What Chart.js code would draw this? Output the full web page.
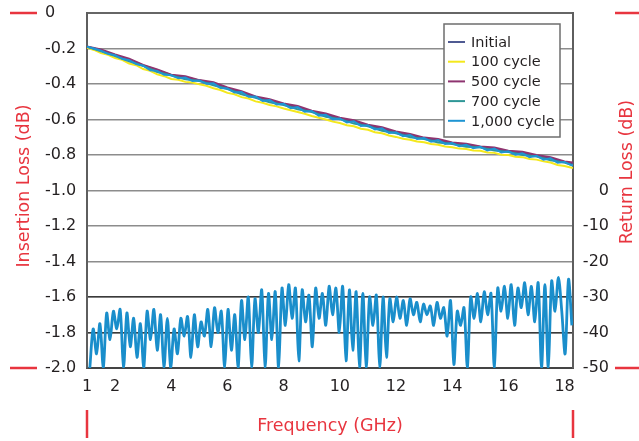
<!DOCTYPE html>
<html>
<head>
<meta charset="utf-8">
<script src="https://cdn.jsdelivr.net/npm/chart.js@4.4.1/dist/chart.umd.min.js"></script>
<style>
  html, body { margin: 0; padding: 0; background: #fff; }
  #wrap { width: 639px; height: 441px; position: relative; }
</style>
</head>
<body>
<div id="wrap"><canvas id="lossChart"></canvas></div>
<script>
// Frequenze (GHz) per la perdita di inserzione
const ilFreq = [1, 1.5, 2, 2.5, 3, 3.5, 4, 4.5, 5, 5.5, 6, 6.5, 7, 7.5, 8, 8.5, 9, 9.5,
    10, 10.5, 11, 11.5, 12, 12.5, 13, 13.5, 14, 14.5, 15, 15.5, 16, 16.5, 17, 17.5, 18, 18.3];
const ilFreqFine = [1, 1.25, 1.5, 1.75, 2, 2.25, 2.5, 2.75, 3, 3.25, 3.5, 3.75, 4, 4.25, 4.5, 4.75,
    5, 5.25, 5.5, 5.75, 6, 6.25, 6.5, 6.75, 7, 7.25, 7.5, 7.75, 8, 8.25, 8.5, 8.75,
    9, 9.25, 9.5, 9.75, 10, 10.25, 10.5, 10.75, 11, 11.25, 11.5, 11.75, 12, 12.25, 12.5, 12.75,
    13, 13.25, 13.5, 13.75, 14, 14.25, 14.5, 14.75, 15, 15.25, 15.5, 15.75, 16, 16.25, 16.5, 16.75,
    17, 17.25, 17.5, 17.75, 18, 18.25, 18.3];

// Insertion loss (dB) per ciclo
const ilInitial = [-0.19, -0.21, -0.238, -0.262, -0.296, -0.322, -0.35, -0.362, -0.38, -0.396, -0.425, -0.447,
    -0.474, -0.492, -0.514, -0.532, -0.554, -0.574, -0.594, -0.612, -0.634, -0.652, -0.674, -0.69,
    -0.706, -0.718, -0.734, -0.742, -0.755, -0.764, -0.78, -0.789, -0.805, -0.818, -0.84, -0.848];
const il100 = [-0.196, -0.208, -0.226, -0.236, -0.254, -0.264, -0.285, -0.294, -0.316, -0.326, -0.346, -0.356,
    -0.372, -0.376, -0.388, -0.392, -0.402, -0.41, -0.424, -0.434, -0.45, -0.458, -0.474, -0.482,
    -0.498, -0.506, -0.518, -0.526, -0.538, -0.548, -0.558, -0.568, -0.58, -0.59, -0.6, -0.612,
    -0.62, -0.632, -0.638, -0.652, -0.658, -0.672, -0.678, -0.69, -0.698, -0.708, -0.714, -0.724,
    -0.728, -0.738, -0.742, -0.752, -0.756, -0.764, -0.766, -0.774, -0.776, -0.786, -0.788, -0.798,
    -0.8, -0.81, -0.812, -0.822, -0.826, -0.836, -0.842, -0.856, -0.862, -0.872, -0.872];
const il500 = [-0.188, -0.206, -0.234, -0.258, -0.292, -0.318, -0.348, -0.356, -0.378, -0.39, -0.42, -0.44,
    -0.47, -0.486, -0.51, -0.524, -0.55, -0.566, -0.59, -0.604, -0.63, -0.644, -0.668, -0.682,
    -0.702, -0.71, -0.73, -0.736, -0.752, -0.758, -0.776, -0.782, -0.8, -0.812, -0.836, -0.842];
const il700 = [-0.19, -0.216, -0.242, -0.272, -0.298, -0.332, -0.352, -0.373, -0.383, -0.407, -0.428, -0.458,
    -0.478, -0.503, -0.518, -0.543, -0.558, -0.585, -0.598, -0.623, -0.638, -0.663, -0.678, -0.7,
    -0.71, -0.729, -0.738, -0.753, -0.758, -0.775, -0.783, -0.8, -0.808, -0.83, -0.843, -0.86];
const il1000 = [-0.19, -0.2, -0.213, -0.23, -0.238, -0.258, -0.266, -0.288, -0.297, -0.322, -0.326, -0.348,
    -0.35, -0.368, -0.364, -0.383, -0.38, -0.399, -0.396, -0.422, -0.425, -0.448, -0.445, -0.472,
    -0.47, -0.495, -0.49, -0.515, -0.512, -0.536, -0.53, -0.556, -0.552, -0.578, -0.574, -0.598,
    -0.594, -0.617, -0.61, -0.637, -0.633, -0.656, -0.65, -0.676, -0.672, -0.694, -0.688, -0.71,
    -0.705, -0.725, -0.716, -0.738, -0.733, -0.751, -0.742, -0.762, -0.754, -0.774, -0.764, -0.786,
    -0.779, -0.798, -0.79, -0.812, -0.804, -0.826, -0.819, -0.843, -0.839, -0.858, -0.856];

// Frequenze (GHz) per la perdita di ritorno
const rlFreq = [1.10, 1.22, 1.34, 1.46, 1.58, 1.70, 1.82, 1.94, 2.06, 2.18, 2.30, 2.42, 2.54, 2.66, 2.78, 2.90,
    3.02, 3.14, 3.26, 3.38, 3.50, 3.62, 3.74, 3.86, 3.98, 4.10, 4.22, 4.34, 4.46, 4.58, 4.70, 4.82,
    4.94, 5.06, 5.18, 5.30, 5.42, 5.54, 5.66, 5.78, 5.90, 6.02, 6.14, 6.26, 6.38, 6.50, 6.62, 6.74,
    6.86, 6.98, 7.10, 7.22, 7.34, 7.46, 7.58, 7.70, 7.82, 7.94, 8.06, 8.18, 8.30, 8.42, 8.54, 8.66,
    8.78, 8.90, 9.02, 9.14, 9.26, 9.38, 9.50, 9.62, 9.74, 9.86, 9.98, 10.10, 10.22, 10.34, 10.46, 10.58,
    10.70, 10.82, 10.94, 11.06, 11.18, 11.30, 11.42, 11.54, 11.66, 11.78, 11.90, 12.02, 12.14, 12.26, 12.38, 12.50,
    12.62, 12.74, 12.86, 12.98, 13.10, 13.22, 13.34, 13.46, 13.58, 13.70, 13.82, 13.94, 14.06, 14.18, 14.30, 14.42,
    14.54, 14.66, 14.78, 14.90, 15.02, 15.14, 15.26, 15.38, 15.50, 15.62, 15.74, 15.86, 15.98, 16.10, 16.22, 16.34,
    16.46, 16.58, 16.70, 16.82, 16.94, 17.06, 17.18, 17.30, 17.42, 17.54, 17.66, 17.78, 17.90, 18.02, 18.14, 18.26];

// Return loss (dB), 1,000 cycle (le altre curve coincidono)
const rl1000 = [-50, -39, -46, -37.5, -50, -34.5, -42, -34, -39, -33.5, -50, -34.5, -44, -36, -47, -37.5,
    -50, -34, -42, -33.5, -45, -35, -50, -36, -50, -39, -46, -36, -41, -35.5, -47, -35,
    -44, -37, -41, -33.5, -44, -33, -40, -34, -50, -33.5, -45, -35, -50, -31, -42, -30,
    -50, -30.5, -40, -28, -50, -29, -42, -28.5, -50, -27.5, -38, -26.5, -36, -27.5, -48, -28,
    -37, -29.5, -44, -27.5, -36, -29, -38, -27, -35, -27.5, -40, -27, -48, -28, -45, -28.5,
    -50, -29, -50, -30, -38, -29.5, -50, -30, -47, -30.5, -37, -30, -36, -31, -38, -30.5,
    -35, -31.5, -37, -32, -35, -32.5, -38, -31.5, -36, -33, -41, -31, -49, -34, -38, -33,
    -50, -30, -36, -29, -37, -28.5, -35, -29, -50, -27.5, -34, -27, -36, -26.5, -38, -27.5,
    -33, -26, -35, -27, -37, -26, -50, -26.5, -50, -25.5, -34, -24.5, -34, -46, -25, -38];

const ilLabels = ['Initial', '100 cycle', '500 cycle', '700 cycle', '1,000 cycle'];
const ilColors = ['#4f5a92', '#f4e81c', '#8e3470', '#2f9797', '#1f95d3'];
const rlColor = '#1a8ecb';

const xTicks = [1, 2, 4, 6, 8, 10, 12, 14, 16, 18];
const xTitle = 'Frequency (GHz)';
const yTitle = 'Insertion Loss (dB)';
const y2Title = 'Return Loss (dB)';

const RED = '#e8353f';
const TXT = '#231f20';
const FONT = '"DejaVu Sans"';

const toPoints = (xs, ys) => ys.map((y, i) => ({ x: xs[i], y }));

// ordine di disegno: 1,000 cycle sopra, 100 cycle sotto
const ilSeries = [ilInitial, il100, il500, il700, il1000];
const ilX = [ilFreq, ilFreqFine, ilFreq, ilFreq, ilFreqFine];
const ilOrder = [4, 5, 3, 2, 1];

const datasets = ilSeries.map((s, i) => ({
    label: ilLabels[i],
    data: toPoints(ilX[i], s),
    borderColor: ilColors[i],
    borderWidth: 2,
    pointRadius: 0,
    tension: 0,
    yAxisID: 'y',
    order: ilOrder[i]
}));
datasets.push({
    label: 'Return Loss',
    data: toPoints(rlFreq, rl1000),
    borderColor: rlColor,
    borderWidth: 2.8,
    pointRadius: 0,
    tension: 0.3,
    yAxisID: 'y2',
    order: 0
});

// Legenda, titoli degli assi e segni rossi
const frameDecor = {
    id: 'frameDecor',
    afterDraw(chart) {
        const { ctx, chartArea: a, width } = chart;
        ctx.save();
        ctx.strokeStyle = RED;
        ctx.lineWidth = 2.5;
        const seg = (x1, y1, x2, y2) => { ctx.beginPath(); ctx.moveTo(x1, y1); ctx.lineTo(x2, y2); ctx.stroke(); };
        seg(10, a.top, 37, a.top);
        seg(10, a.bottom, 37, a.bottom);
        seg(615, a.top, width, a.top);
        seg(615, a.bottom, width, a.bottom);
        seg(a.left, 410, a.left, 438);
        seg(a.right, 410, a.right, 438);

        ctx.fillStyle = RED;
        ctx.font = '17.5px ' + FONT;
        ctx.textAlign = 'center';
        ctx.textBaseline = 'middle';
        ctx.fillText(xTitle, (a.left + a.right) / 2, 426);
        ctx.save();
        ctx.translate(24, 186);
        ctx.rotate(-Math.PI / 2);
        ctx.fillText(yTitle, 0, 0);
        ctx.restore();
        ctx.save();
        ctx.translate(627, 172);
        ctx.rotate(-Math.PI / 2);
        ctx.fillText(y2Title, 0, 0);
        ctx.restore();

        // legenda
        const bx = a.right - 129, by = a.top + 11, bw = 116, bh = 113;
        ctx.fillStyle = '#fff';
        ctx.fillRect(bx, by, bw, bh);
        ctx.strokeStyle = '#6e6e6e';
        ctx.lineWidth = 1.5;
        ctx.strokeRect(bx, by, bw, bh);
        ctx.font = '14.5px ' + FONT;
        ctx.textAlign = 'left';
        ctx.fillStyle = TXT;
        ilLabels.forEach((lbl, i) => {
            const yy = by + 18 + i * 19.7;
            ctx.strokeStyle = ilColors[i];
            ctx.lineWidth = 2;
            seg(bx + 4, yy, bx + 21, yy);
            ctx.fillText(lbl, bx + 27, yy + 1);
        });
        ctx.restore();
    }
};

new Chart(document.getElementById('lossChart'), {
    type: 'line',
    data: { datasets },
    options: {
        responsive: true,
        maintainAspectRatio: false,
        animation: false,
        layout: { padding: { top: 13, left: 45, right: 30, bottom: 0 } },
        plugins: {
            legend: { display: false },
            tooltip: { enabled: false }
        },
        scales: {
            x: {
                type: 'linear',
                min: 1,
                max: 18.3,
                afterBuildTicks: scale => { scale.ticks = xTicks.map(v => ({ value: v })); },
                afterFit: scale => { scale.height = 73; },
                grid: { display: true, drawOnChartArea: false, drawTicks: false },
                border: { display: true, color: '#444', width: 2 },
                ticks: { color: TXT, font: { family: FONT, size: 16 }, padding: 9, maxRotation: 0, autoSkip: false }
            },
            y: {
                position: 'left',
                min: -2,
                max: 0,
                afterFit: scale => { scale.width = 42; },
                grid: {
                    drawTicks: false,
                    color: c => (c.tick && c.tick.value === 0) ? '#666' : '#8c8c8c',
                    lineWidth: c => (c.tick && c.tick.value === 0) ? 2 : 1.4
                },
                border: { display: true, color: '#5e5e5e', width: 2 },
                ticks: {
                    stepSize: 0.2,
                    crossAlign: 'far',
                    color: TXT,
                    font: { family: FONT, size: 16 },
                    callback: v => Math.abs(v) < 1e-9 ? '0' : v.toFixed(1)
                }
            },
            y2: {
                position: 'right',
                min: -50,
                max: 50,
                z: 1,
                afterFit: scale => { scale.width = 36; },
                grid: {
                    drawTicks: false,
                    color: c => (c.tick && (c.tick.value === -30 || c.tick.value === -40)) ? '#3a3a3a' : 'rgba(0,0,0,0)',
                    lineWidth: 1.4
                },
                border: { display: true, color: '#5e5e5e', width: 2 },
                ticks: {
                    stepSize: 10,
                    crossAlign: 'far',
                    color: TXT,
                    font: { family: FONT, size: 16 },
                    callback: v => v > 0 ? '' : String(v)
                }
            }
        }
    },
    plugins: [frameDecor]
});
</script>
</body>
</html>
